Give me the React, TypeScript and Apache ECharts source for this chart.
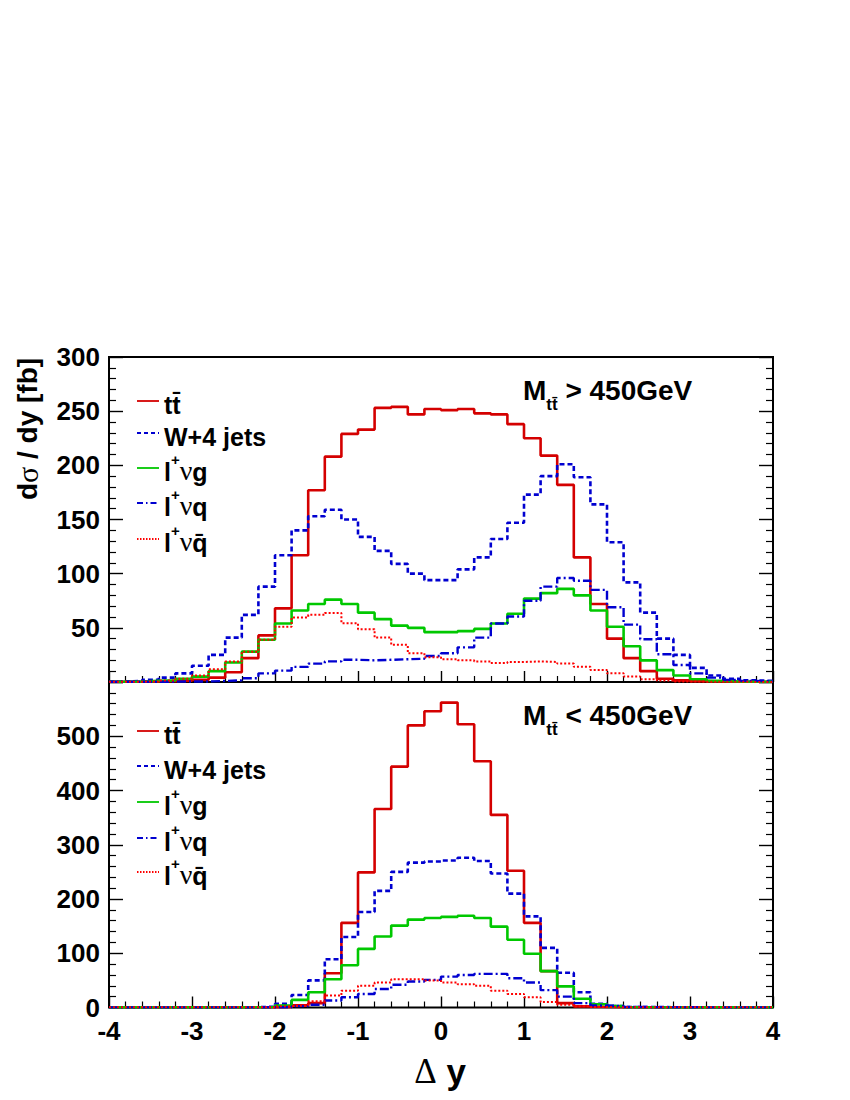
import React, { useEffect, useRef } from "react";
import * as echarts from "echarts";

// bin lower edges (bin width 0.2), last edge = 4
const BIN_LO = [
  -4.0, -3.8, -3.6, -3.4, -3.2, -3.0, -2.8, -2.6, -2.4, -2.2,
  -2.0, -1.8, -1.6, -1.4, -1.2, -1.0, -0.8, -0.6, -0.4, -0.2,
  0.0, 0.2, 0.4, 0.6, 0.8, 1.0, 1.2, 1.4, 1.6, 1.8,
  2.0, 2.2, 2.4, 2.6, 2.8, 3.0, 3.2, 3.4, 3.6, 3.8,
];
const X_END = 4;

// ---- upper panel: M_tt > 450 GeV ----
const HI_TT = [
  0.3, 0.3, 0.5, 0.8, 1.2, 2, 4, 9, 22, 43,
  68, 117, 177, 208, 229, 233, 253, 254, 247, 252,
  251, 252, 248, 247, 238, 225, 209, 182, 115, 72,
  40, 22, 10, 3, 1.5, 0.8, 0.5, 0.3, 0.2, 0.2,
];
const HI_W4J = [
  0.5, 1, 2, 4, 8, 15, 25, 41, 62, 88,
  117, 140, 153, 159, 150, 134, 121, 109, 100, 94,
  94, 104, 115, 132, 147, 173, 190, 201, 189, 164,
  129, 92, 64, 40, 25, 13, 6, 3, 1.5, 1,
];
const HI_LVG = [
  0.3, 0.5, 1, 1.5, 3, 5, 10, 18, 28, 39,
  54, 66, 72, 76, 72, 64, 58, 52, 50, 46,
  46, 47, 49, 54, 63, 77, 82, 86, 80, 66,
  51, 33, 20, 11, 6, 2.6, 1, 0.5, 0.3, 0.3,
];
const HI_LVQ = [
  0.2, 0.2, 0.3, 0.3, 0.5, 0.5, 1, 1.5, 3.5, 8,
  10.5, 14, 17, 19, 20.5, 20, 20.5, 21, 21.5, 24,
  26.5, 32, 41, 54, 60.5, 75, 88, 96, 93.5, 85,
  69, 53, 39.5, 25.6, 15.7, 8, 4, 2, 1, 0.5,
];
const HI_LVQB = [
  0.2, 0.3, 0.5, 1.5, 3, 6, 11.7, 19, 28, 39,
  51, 59.6, 62, 63.6, 54.3, 48.8, 41, 34.3, 26.5, 22.8,
  21, 20, 19, 17.6, 18.5, 19, 18.5, 17, 14, 11,
  8, 5, 2.6, 1.5, 0.5, 0.3, 0.2, 0.2, 0.1, 0.1,
];

// ---- lower panel: M_tt < 450 GeV ----
const LO_TT = [
  0.3, 0.3, 0.3, 0.3, 0.3, 0.3, 0.3, 0.3, 0.5, 0.5,
  1, 4, 8, 63, 156, 249, 366, 444, 520, 546,
  562, 522, 454, 355, 252, 156, 67, 8, 2, 1,
  0.5, 0.3, 0.3, 0.3, 0.3, 0.3, 0.3, 0.3, 0.3, 0.3,
];
const LO_W4J = [
  0.5, 0.5, 0.5, 0.5, 0.5, 0.5, 0.5, 0.5, 0.5, 1.5,
  7, 23, 50, 89, 130, 176, 215, 250, 267, 269,
  271, 276, 270, 247, 210, 168, 110, 64, 28, 7,
  2.5, 1, 1, 0.5, 0.5, 0.5, 0.5, 0.5, 0.5, 0.5,
];
const LO_LVG = [
  0.3, 0.3, 0.3, 0.3, 0.3, 0.3, 0.3, 0.3, 0.5, 1,
  3.7, 14, 28, 52, 78, 108, 131, 151, 162, 165,
  167, 169, 165, 149, 125, 99, 67, 39, 16, 6,
  2.5, 0.5, 0.5, 0.3, 0.3, 0.3, 0.3, 0.3, 0.3, 0.3,
];
const LO_LVQ = [
  0.3, 0.3, 0.3, 0.3, 0.3, 0.3, 0.3, 0.3, 0.3, 0.5,
  0.5, 2.5, 5, 13, 19, 25, 34, 42, 48, 51,
  57, 60, 62, 62, 54, 46, 32, 20, 8, 3.7,
  2.5, 1, 0.5, 0.5, 0.5, 0.3, 0.3, 0.3, 0.3, 0.3,
];
const LO_LVQB = [
  0.3, 0.3, 0.3, 0.3, 0.3, 0.3, 0.3, 0.3, 0.3, 0.5,
  2.5, 3.7, 11.6, 22, 31, 40, 46, 52, 52, 50,
  46, 43, 40, 31, 25, 19, 10, 5, 2.5, 1,
  0.5, 0.5, 0.3, 0.3, 0.3, 0.3, 0.3, 0.3, 0.3, 0.3,
];

const Y_TICKS_TOP = [0, 50, 100, 150, 200, 250, 300];
const Y_TICKS_BOT = [0, 100, 200, 300, 400, 500, 600];
const X_TICKS = [-4, -3, -2, -1, 0, 1, 2, 3, 4];

const TBAR = "t\u0304";
const QBAR = "q\u0304";

const SERIES_NAMES = ["ttbar", "W+4 jets", "l+vg", "l+vq", "l+vqbar"];
const LEGEND_TEXTS = [
  `{b|t${TBAR}}`,
  "{b|W+4 jets}",
  "{b|l}{sup|+}{nu|\u03bd}{b|g}",
  "{b|l}{sup|+}{nu|\u03bd}{b|q}",
  `{b|l}{sup|+}{nu|\u03bd}{b|${QBAR}}`,
];

const FONT = "'Liberation Sans', Arial, Helvetica, sans-serif";
const SYM = "'Liberation Serif', 'DejaVu Serif', serif";

const STYLES: any[] = [
  { color: "#d40000", width: 2.6, type: "solid" },
  { color: "#0000d0", width: 2.6, type: [5, 3] },
  { color: "#00c800", width: 2.6, type: "solid" },
  { color: "#0000d0", width: 2.4, type: [9, 3, 2, 3] },
  { color: "#ff0000", width: 2.0, type: [2, 2] },
];
const LEG_DASH: any[] = [null, [4, 3], null, [6, 3, 1.5, 3], [1.5, 1.5]];

function steps(vals: number[]) {
  const d: number[][] = BIN_LO.map((x, i) => [x, vals[i]]);
  d.push([X_END, vals[vals.length - 1]]);
  return d;
}

const RICH = {
  b: { fontFamily: FONT, fontWeight: "bold", fontSize: 25, fill: "#000", lineHeight: 32, verticalAlign: "bottom" },
  sup: { fontFamily: FONT, fontWeight: "bold", fontSize: 15, fill: "#000", lineHeight: 32, verticalAlign: "top" },
  nu: { fontFamily: SYM, fontWeight: "normal", fontSize: 28, fill: "#000", lineHeight: 32, verticalAlign: "bottom" },
};

function legendGraphics(rowsY: number[]) {
  const out: any[] = [];
  rowsY.forEach((y, i) => {
    out.push({
      type: "line",
      shape: { x1: 137, y1: y, x2: 159, y2: y },
      style: { stroke: STYLES[i].color, lineWidth: 1.8, lineDash: LEG_DASH[i] },
      z: 100,
    });
    out.push({
      type: "text",
      x: 164,
      y: y,
      style: {
        text: LEGEND_TEXTS[i],
        rich: RICH,
        align: "left",
        verticalAlign: "middle",
        fill: "#000",
      },
      z: 100,
    });
  });
  return out;
}

function massLabel(y: number, op: string) {
  return {
    type: "text",
    x: 523,
    y: y,
    style: {
      text: `{m|M}{s|t${TBAR}}{m| ${op} 450GeV}`,
      rich: {
        m: { fontFamily: FONT, fontWeight: "bold", fontSize: 28, fill: "#000", lineHeight: 32, verticalAlign: "top" },
        s: { fontFamily: FONT, fontWeight: "bold", fontSize: 17, fill: "#000", lineHeight: 17, verticalAlign: "top", padding: [20, 0, 0, 0] },
      },
      align: "left",
      verticalAlign: "top",
    },
    z: 100,
  };
}

export default function App() {
  const ref = useRef<HTMLDivElement>(null);
  useEffect(() => {
    document.body.style.margin = "0";
    const chart = echarts.init(ref.current!, null, { renderer: "svg" });

    const gridTop = { left: 109, top: 357, width: 664, height: 325 };
    const gridBot = { left: 109, top: 682, width: 664, height: 325.5 };

    const xAxisBase = (gi: number, labels: boolean) => ({
      type: "value",
      gridIndex: gi,
      position: "bottom",
      min: X_TICKS[0],
      max: X_TICKS[X_TICKS.length - 1],
      interval: 1,
      axisLine: { show: false, onZero: false },
      axisTick: { show: true, inside: true, length: 11, lineStyle: { color: "#000", width: 1.4 } },
      minorTick: { show: true, splitNumber: 5, length: 6, lineStyle: { color: "#000", width: 1.2 } },
      splitLine: { show: false },
      axisLabel: {
        show: labels,
        fontFamily: FONT,
        fontWeight: "bold",
        fontSize: 26,
        color: "#000",
        margin: 10,
      },
    });

    const yAxisBase = (gi: number, max: number, interval: number, pos: string, labels: boolean, hide: number[]) => ({
      type: "value",
      gridIndex: gi,
      position: pos,
      min: 0,
      max,
      interval,
      axisLine: { show: false, onZero: false },
      axisTick: { show: true, inside: true, length: 14, lineStyle: { color: "#000", width: 1.4 } },
      minorTick: { show: true, splitNumber: 5, length: 7, lineStyle: { color: "#000", width: 1.2 } },
      splitLine: { show: false },
      axisLabel: {
        show: labels,
        fontFamily: FONT,
        fontWeight: "bold",
        fontSize: 26,
        color: "#000",
        margin: 9,
        formatter: (v: number) => (hide.indexOf(v) >= 0 ? "" : String(v)),
      },
    });

    const topData = [HI_TT, HI_W4J, HI_LVG, HI_LVQ, HI_LVQB];
    const botData = [LO_TT, LO_W4J, LO_LVG, LO_LVQ, LO_LVQB];

    const series: any[] = [];
    topData.forEach((vals, i) => {
      series.push({
        name: SERIES_NAMES[i] + " (M>450)",
        type: "line",
        xAxisIndex: 0,
        yAxisIndex: 0,
        step: "end",
        symbol: "none",
        lineStyle: STYLES[i],
        data: steps(vals),
        z: 2 + i,
      });
    });
    botData.forEach((vals, i) => {
      series.push({
        name: SERIES_NAMES[i] + " (M<450)",
        type: "line",
        xAxisIndex: 1,
        yAxisIndex: 2,
        step: "end",
        symbol: "none",
        lineStyle: STYLES[i],
        data: steps(vals),
        z: 2 + i,
      });
    });

    const topMax = Y_TICKS_TOP[Y_TICKS_TOP.length - 1];
    const botMax = Y_TICKS_BOT[Y_TICKS_BOT.length - 1];

    const option: any = {
      animation: false,
      backgroundColor: "#fff",
      grid: [
        { ...gridTop, show: true, borderColor: "#000", borderWidth: 2, backgroundColor: "transparent" },
        { ...gridBot, show: true, borderColor: "#000", borderWidth: 2, backgroundColor: "transparent" },
      ],
      xAxis: [xAxisBase(0, false), xAxisBase(1, true)],
      yAxis: [
        yAxisBase(0, topMax, 50, "left", true, [0]),
        yAxisBase(0, topMax, 50, "right", false, []),
        yAxisBase(1, botMax, 100, "left", true, [botMax]),
        yAxisBase(1, botMax, 100, "right", false, []),
      ],
      series,
      graphic: [
        ...legendGraphics([401, 433, 468, 503, 539]),
        ...legendGraphics([731, 766, 802, 838, 872]),
        massLabel(376, ">"),
        massLabel(701, "<"),
        {
          type: "text",
          x: 27,
          y: 429,
          rotation: Math.PI / 2,
          style: {
            text: "{b|d}{g|\u03c3}{b| / dy [fb]}",
            rich: {
              b: { fontFamily: FONT, fontWeight: "bold", fontSize: 28, fill: "#000" },
              g: { fontFamily: SYM, fontWeight: "normal", fontSize: 30, fill: "#000" },
            },
            align: "center",
            verticalAlign: "middle",
          },
          z: 100,
        },
        {
          type: "text",
          x: 440,
          y: 1071,
          style: {
            text: "{g|\u0394}{b| y}",
            rich: {
              b: { fontFamily: FONT, fontWeight: "bold", fontSize: 35, fill: "#000" },
              g: { fontFamily: SYM, fontWeight: "normal", fontSize: 35, fill: "#000" },
            },
            align: "center",
            verticalAlign: "middle",
          },
          z: 100,
        },
      ],
    };
    chart.setOption(option);
    return () => chart.dispose();
  }, []);
  return <div ref={ref} style={{ width: 850, height: 1100 }} />;
}
